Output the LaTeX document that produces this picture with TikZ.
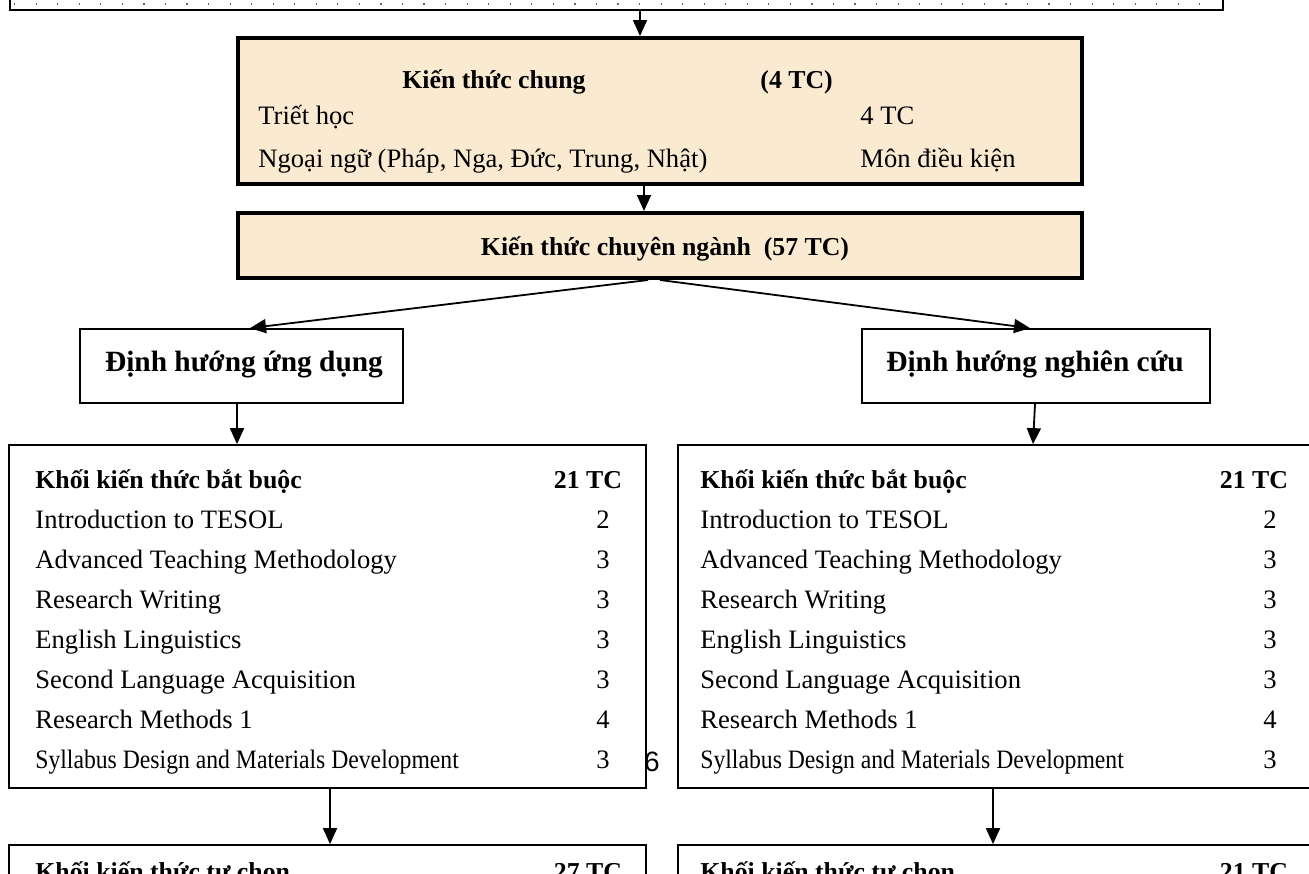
\documentclass[tikz,border=0pt]{standalone}
\usepackage{fontspec}
\setmainfont{Liberation Serif}
\newfontfamily\pagefont{Liberation Sans}
\usetikzlibrary{arrows.meta}

\definecolor{beige}{RGB}{251,234,210}

\tikzset{
    box/.style={draw, line width=0.9pt, inner sep=0pt},
    thickbox/.style={draw, line width=2pt, fill=beige, inner sep=0pt},
    conn/.style={line width=0.9pt, -{Triangle[length=8pt,width=7pt]}},
    txt/.style={inner sep=0pt, anchor=base west, font=\fontsize{13.3}{16}\selectfont},
    btxt/.style={txt, font=\fontsize{12.9}{16}\selectfont\bfseries},
    htxt/.style={txt, anchor=base, font=\fontsize{14.7}{18}\selectfont\bfseries},
}

\begin{document}
\begin{tikzpicture}[x=0.5pt, y=-0.5pt] % 1 unit = 1 pixel, y downwards

    % Define parameters
    \def\lx{35}    % text column, left
    \def\rx{700}   % text column, right
    \def\ln{603}   % credits column, left
    \def\rn{1270}  % credits column, right
    \def\lt{588}   % block credits, left
    \def\rt{1254}  % block credits, right

    \useasboundingbox (0,0) rectangle (1309,873);
    \clip (0,0) rectangle (1309,873);

    % top box (cut off)
    \node[box, line width=1.2pt, minimum width=606.5pt, minimum height=25pt] (tong) at (616.5,-15) {};
    \draw[black!60, line width=0.8pt, dash pattern=on 0.6pt off 10.175pt] (14,4) -- (1220,4);

    % general knowledge
    \node[thickbox, minimum width=422pt, minimum height=73pt] (chung) at (660,111) {};
    \node[btxt] (chungten) at (402,88) {Kiến thức chung};
    \node[btxt] (chungtc) at (760,88) {(4 TC)};
    \node[txt] (triet) at (258,124) {Triết học};
    \node[txt] (triettc) at (860,124) {4 TC};
    \node[txt] (ngoaingu) at (258,167) {Ngoại ngữ (Pháp, Nga, Đức, Trung, Nhật)};
    \node[txt] (ngoaingutc) at (860,167) {Môn điều kiện};

    % major knowledge
    \node[thickbox, minimum width=422pt, minimum height=32.5pt] (chuyen) at (660,245.5) {};
    \node[btxt, anchor=base] (chuyenten) at (665,255) {Kiến thức chuyên ngành\ \ (57 TC)};

    % orientations
    \node[box, minimum width=161.5pt, minimum height=37pt] (ungdung) at (241.5,366) {};
    \node[htxt] (ungdungten) at (244,371) {Định hướng ứng dụng};
    \node[box, minimum width=174pt, minimum height=37pt] (nghiencuu) at (1036,366) {};
    \node[htxt] (nghiencuuten) at (1035,371) {Định hướng nghiên cứu};

    % compulsory blocks
    \node[box, minimum width=318.5pt, minimum height=171.5pt] (batbuocl) at (327.5,616.5) {};
    \node[box, minimum width=326pt, minimum height=171.5pt] (batbuocr) at (1004,616.5) {};
    \node[btxt] (batbuoclten) at (\lx,488) {Khối kiến thức bắt buộc};
    \node[btxt, anchor=base] (batbuocltc) at (\lt,488) {21 TC};
    \node[btxt] (batbuocrten) at (\rx,488) {Khối kiến thức bắt buộc};
    \node[btxt, anchor=base] (batbuocrtc) at (\rt,488) {21 TC};
    \foreach \mon/\tc [count=\i] in {Introduction to TESOL/2, Advanced Teaching Methodology/3,
        Research Writing/3, English Linguistics/3, Second Language Acquisition/3,
        Research Methods 1/4, {\scalebox{0.89}[1]{Syllabus Design and Materials Development}}/3}{
        \node[txt] (monl\i) at (\lx,488+40*\i) {\mon};
        \node[txt, anchor=base] (tcl\i) at (\ln,488+40*\i) {\tc};
        \node[txt] (monr\i) at (\rx,488+40*\i) {\mon};
        \node[txt, anchor=base] (tcr\i) at (\rn,488+40*\i) {\tc};
    }

    % page number
    \node[inner sep=0pt, anchor=base, font=\pagefont\fontsize{14}{16}\selectfont] (trang) at (652,771) {6};

    % elective blocks (cut off)
    \node[box, minimum width=318.5pt, minimum height=100pt] (tuchonl) at (327.5,945) {};
    \node[box, minimum width=326pt, minimum height=100pt] (tuchonr) at (1004,945) {};
    \node[btxt] (tuchonlten) at (\lx,880) {Khối kiến thức tự chọn};
    \node[btxt, anchor=base] (tuchonltc) at (\lt,880) {27 TC};
    \node[btxt] (tuchonrten) at (\rx,880) {Khối kiến thức tự chọn};
    \node[btxt, anchor=base] (tuchonrtc) at (\rt,880) {21 TC};

    % arrows
    \draw[conn] (tong.south -| 640,0) -- (chung.north -| 640,0);
    \draw[conn] (chung.south -| 644,0) -- (chuyen.north -| 644,0);
    \draw[conn] (chuyen.south -| 648,0) -- (ungdung.north -| 250,0);
    \draw[conn] (chuyen.south -| 660,0) -- (nghiencuu.north -| 1030,0);
    \draw[conn] (ungdung.south -| 237,0) -- (batbuocl.north -| 237,0);
    \draw[conn] (nghiencuu.south -| 1035,0) -- (batbuocr.north -| 1033,0);
    \draw[conn] (batbuocl.south -| 330,0) -- (tuchonl.north -| 330,0);
    \draw[conn] (batbuocr.south -| 993,0) -- (tuchonr.north -| 993,0);

\end{tikzpicture}
\end{document}
